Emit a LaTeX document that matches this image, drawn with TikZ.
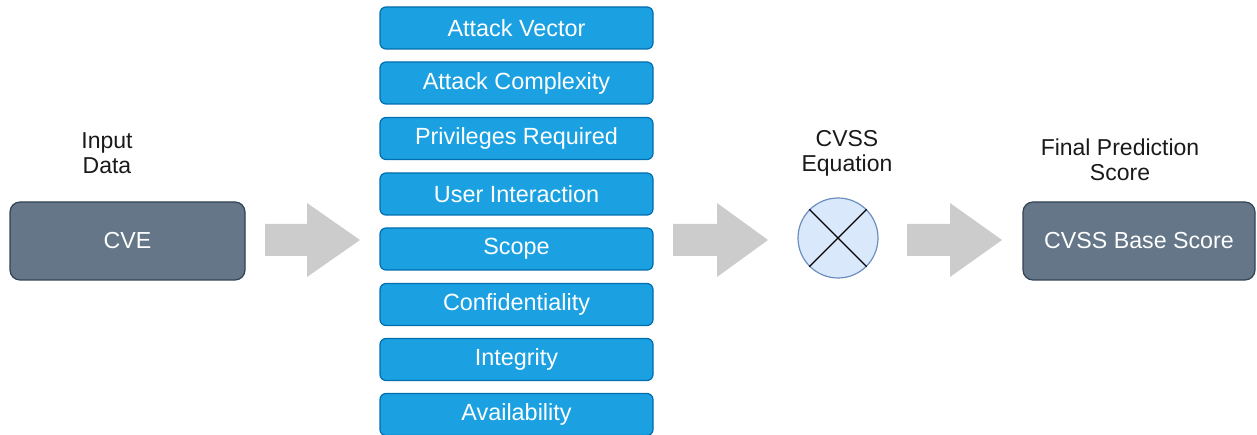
\documentclass[tikz,border=0pt]{standalone}
\usepackage{fontspec}
\setmainfont{Liberation Sans}
\definecolor{bluefill}{HTML}{1BA1E2}
\definecolor{blueline}{HTML}{006EAF}
\definecolor{slatefill}{HTML}{647687}
\definecolor{slateline}{HTML}{314354}
\definecolor{circfill}{HTML}{DAE8FC}
\definecolor{circline}{HTML}{6C8EBF}
\definecolor{arrowgray}{HTML}{CCCCCC}
\definecolor{labeltext}{HTML}{1A1A1A}
\tikzset{
  metricbox/.style={draw=blueline, fill=bluefill, line width=1.2pt, rounded corners=6pt,
    minimum width=273pt, minimum height=42pt, inner sep=0pt, text=white,
    font=\fontsize{23.4}{25}\selectfont},
  slatebox/.style={draw=slateline, fill=slatefill, line width=1.2pt, rounded corners=10pt,
    minimum height=78pt, inner sep=0pt, text=white, font=\fontsize{23.2}{25}\selectfont},
  label/.style={align=center, text=labeltext, inner sep=0pt, font=\fontsize{23}{25}\selectfont},
  blockarrow/.style={fill=arrowgray}
}
\begin{document}
\begin{tikzpicture}[x=1pt,y=-1pt]
\useasboundingbox (0,0) rectangle (1257,435);
% input
\node[slatebox, minimum width=235pt] (cve) at (127.5,241) {CVE};
\node[label] (inlabel) at (107,153) {Input\\Data};
% arrows
\fill[blockarrow] (265,224) -- (307,224) -- (307,203) -- (360,240) -- (307,277) -- (307,256) -- (265,256) -- cycle;
\fill[blockarrow] (673,224) -- (717,224) -- (717,203) -- (768,240) -- (717,277) -- (717,256) -- (673,256) -- cycle;
\fill[blockarrow] (907,224) -- (950,224) -- (950,203) -- (1002,240) -- (950,277) -- (950,256) -- (907,256) -- cycle;
% metrics
\node[metricbox] (av) at (516.5,28) {Attack Vector};
\node[metricbox] (ac) at (516.5,83) {Attack Complexity};
\node[metricbox] (pr) at (516.5,138.5) {Privileges Required};
\node[metricbox] (ui) at (516.5,194) {User Interaction};
\node[metricbox] (sc) at (516.5,249) {Scope};
\node[metricbox] (cf) at (516.5,304.5) {Confidentiality};
\node[metricbox] (ig) at (516.5,359.5) {Integrity};
\node[metricbox] (aa) at (516.5,414.5) {Availability};
% equation
\node[circle, draw=circline, fill=circfill, line width=1.2pt, minimum size=80pt, inner sep=0pt] (eq) at (838,238) {};
\draw[line width=1.3pt, black] (eq.45) -- (eq.225);
\draw[line width=1.3pt, black] (eq.135) -- (eq.315);
\node[label] (eqlabel) at (847,153.5) {CVSS\\Equation};
% output
\node[slatebox, minimum width=232pt] (base) at (1139,241) {CVSS Base Score};
\node[label] (outlabel) at (1120,159.5) {Final Prediction\\Score};
\end{tikzpicture}
\end{document}
